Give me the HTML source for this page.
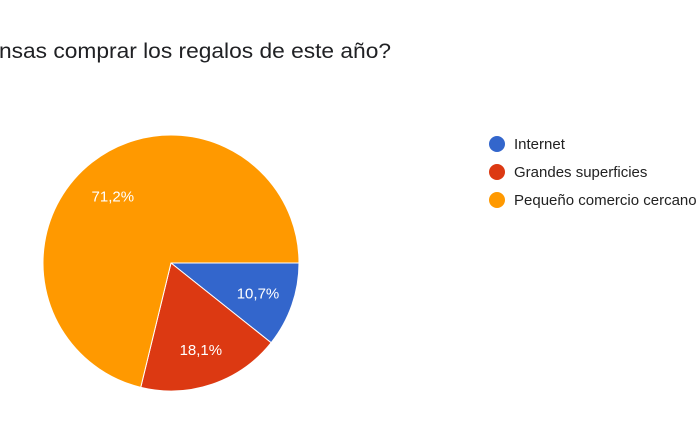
<!DOCTYPE html>
<html><head><meta charset="utf-8"><style>
body{margin:0;background:#fff;width:700px;height:441px;overflow:hidden;font-family:"Liberation Sans",Arial,sans-serif}
</style></head><body>
<svg id="chart" width="700" height="441" viewBox="0 0 700 441">
<text x="-1" y="58" font-size="21" fill="#202124" textLength="392" lengthAdjust="spacingAndGlyphs">nsas comprar los regalos de este año?</text>
<g id="slices"></g>
<g id="legend"></g>
</svg>
<script>
const categories = ["Internet","Grandes superficies","Pequeño comercio cercano"];
const values = [10.7, 18.1, 71.2];
const labels = ["10,7%","18,1%","71,2%"];
const colors = ["#3366cc","#dc3912","#ff9900"];
const cx=171, cy=263, r=128;
const ns="http://www.w3.org/2000/svg";
const g=document.getElementById('slices');
const total=values.reduce((a,b)=>a+b,0);
let a0=0;
values.forEach((v,i)=>{
  const a1=a0+v/total*2*Math.PI;
  const x0=cx+r*Math.cos(a0), y0=cy+r*Math.sin(a0);
  const x1=cx+r*Math.cos(a1), y1=cy+r*Math.sin(a1);
  const large=(a1-a0)>Math.PI?1:0;
  const p=document.createElementNS(ns,'path');
  p.setAttribute('d',`M${cx},${cy} L${x0},${y0} A${r},${r} 0 ${large} 1 ${x1},${y1} Z`);
  p.setAttribute('fill',colors[i]);p.setAttribute('stroke','#fff');p.setAttribute('stroke-width','1');
  
  
  g.appendChild(p);
  const am=(a0+a1)/2, lr=r*(v>50?0.66:0.72);
  const t=document.createElementNS(ns,'text');
  t.setAttribute('x',cx+lr*Math.cos(am)+(v>50?-6:0));t.setAttribute('y',cy+lr*Math.sin(am)+5);
  t.setAttribute('text-anchor','middle');t.setAttribute('font-size','15');t.setAttribute('fill','#fff');
  t.textContent=labels[i];
  
  
  g.appendChild(t);
  a0=a1;
});
const lg=document.getElementById('legend');
categories.forEach((c,i)=>{
  const y=144+i*28;
  const ci=document.createElementNS(ns,'circle');
  ci.setAttribute('cx',497);ci.setAttribute('cy',y);ci.setAttribute('r',8);ci.setAttribute('fill',colors[i]);
  
  
  lg.appendChild(ci);
  const t=document.createElementNS(ns,'text');
  t.setAttribute('x',514);t.setAttribute('y',y+5);t.setAttribute('font-size','15');t.setAttribute('fill','#222');
  t.textContent=c;
  
  
  lg.appendChild(t);
});
</script>
</body></html>
